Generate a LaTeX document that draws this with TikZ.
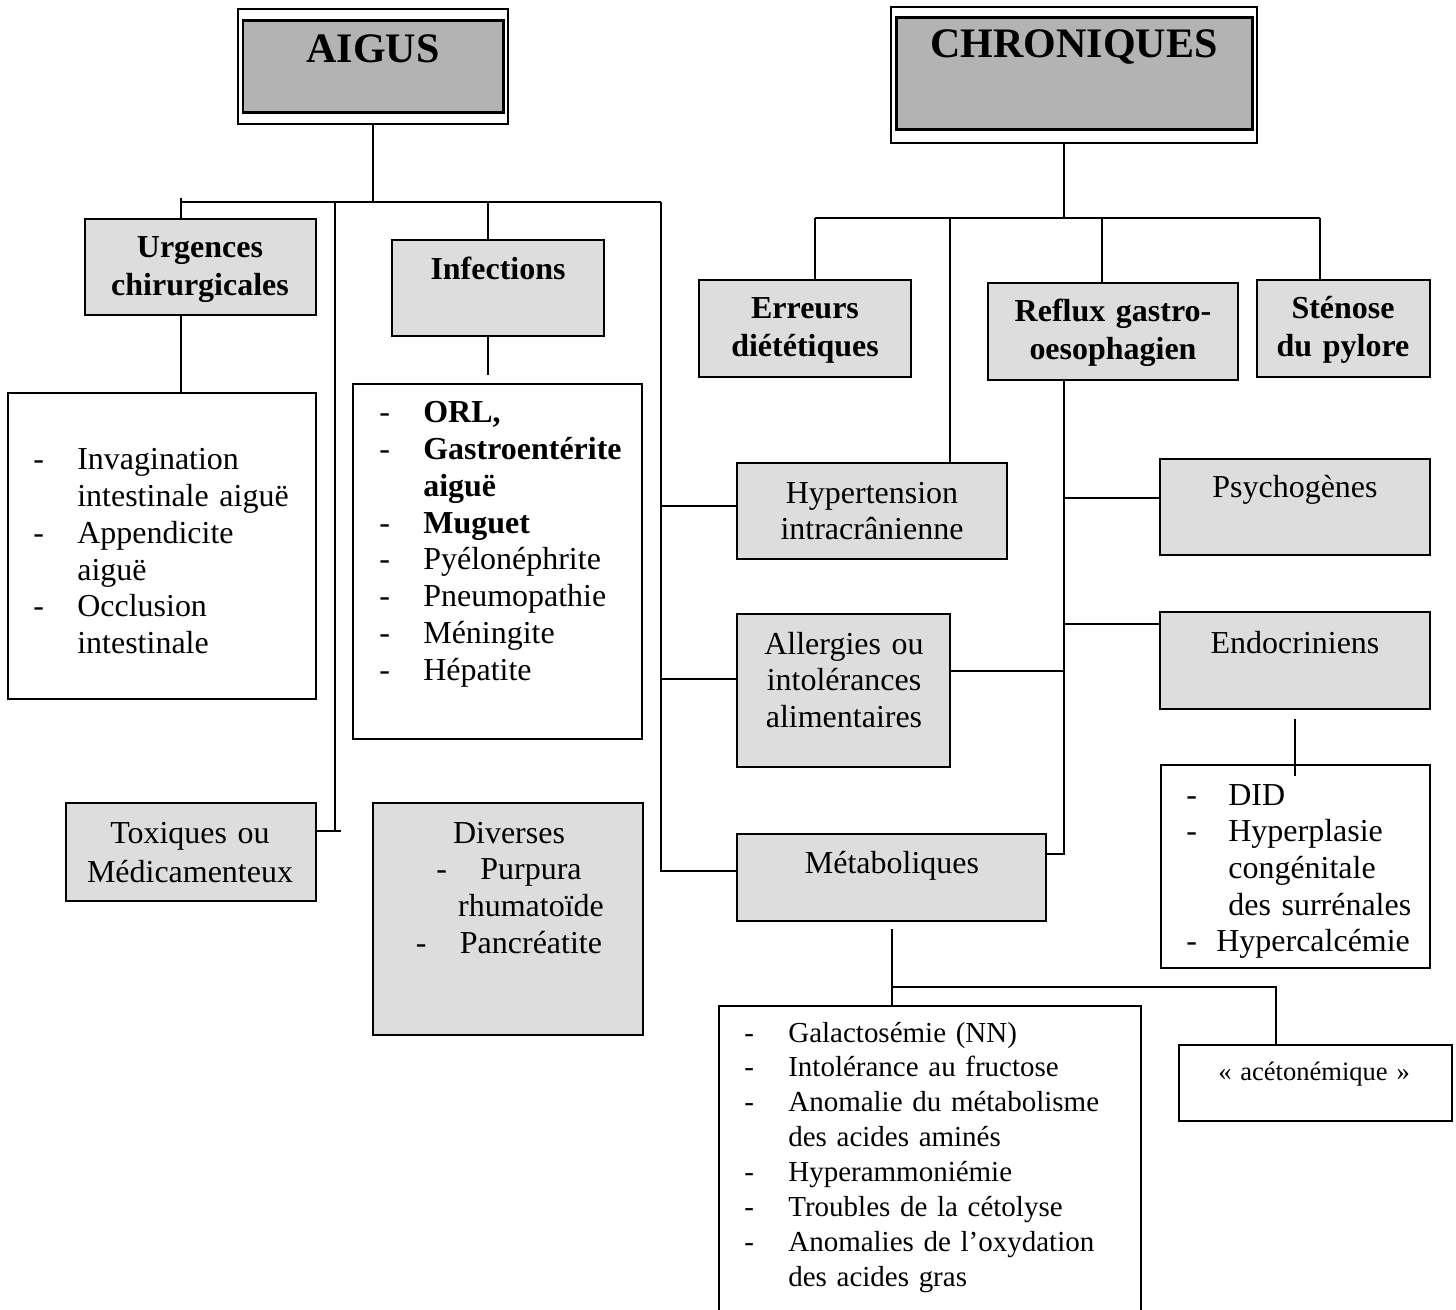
\documentclass[tikz,border=0pt]{standalone}
\usepackage{fontspec}
\setmainfont{Liberation Serif}
\usetikzlibrary{fit}
\definecolor{boxgray}{RGB}{221,221,221}
\definecolor{titlegray}{RGB}{179,179,179}
\tikzset{
    conn/.style={line width=0.85pt},
    framebox/.style={draw, line width=1.1pt, inner sep=0pt},
    graybox/.style={framebox, fill=boxgray},
    whitebox/.style={framebox, fill=white},
    titleout/.style={draw, line width=0.9pt, fill=white, inner sep=0pt},
    titlein/.style={draw, line width=1.7pt, fill=titlegray, inner sep=0pt},
    txt/.style={inner sep=0pt, anchor=base, text width=#1, align=center,
                font=\fontsize{18.2}{20.9}\selectfont},
    txt/.default=6cm,
    bold/.style={txt=#1, font=\fontsize{18.2}{21.6}\selectfont\bfseries},
    bold/.default=6cm,
    lst/.style={inner sep=0pt, anchor=base west, text width=#1, align=left,
                font=\fontsize{18.2}{20.9}\selectfont},
    lst/.default=6cm,
  }
\newcommand{\dash}[1][0.88cm]{\makebox[#1][l]{-}}
\newcommand{\ind}[1][0.88cm]{\hspace*{#1}}

\begin{document}
\begin{tikzpicture}[x=0.02cm,y=-0.02cm]
    \useasboundingbox (0,0) rectangle (1456,1310);
          %titres
          \node[titleout, fit={(238,9) (508,124)}] (aigus) {};
          \node[titlein, fit={(243,21) (503,113)}] (aigusIn) {};
          \node[bold, font=\fontsize{23.9}{26}\selectfont\bfseries] (aigusT) at (373,63) {AIGUS};
          \node[titleout, fit={(891,7) (1257,143)}] (chron) {};
          \node[titlein, fit={(896,18) (1252,130)}] (chronIn) {};
          \node[bold=8cm, font=\fontsize{23.9}{26}\selectfont\bfseries] (chronT) at (1074,58) {CHRONIQUES};
          %boites aigus
          \node[graybox, fit={(85,219) (316,315)}] (urg) {};
          \node[bold] (urgT) at (200,258) {Urgences\\chirurgicales};
          \node[whitebox, fit={(8,393) (316,699)}] (urgList) {};
          \node[lst] (urgListT) at (33,470) {\dash Invagination\\ \ind intestinale aiguë\\
                \dash Appendicite\\ \ind aiguë\\ \dash Occlusion\\ \ind intestinale};
          \node[graybox, fit={(392,240) (604,336)}] (inf) {};
          \node[bold] (infT) at (498,280) {Infections};
          \node[whitebox, fit={(353,384) (642,739)}] (infList) {};
          \node[lst] (infListT) at (379,423) {\dash\textbf{ORL,}\\ \dash\textbf{Gastroentérite}\\
                \ind\textbf{aiguë}\\ \dash\textbf{Muguet}\\ \dash Pyélonéphrite\\
                \dash Pneumopathie\\ \dash Méningite\\ \dash Hépatite};
          \node[graybox, fit={(66,803) (316,901)}] (tox) {};
          \node[txt, font=\fontsize{18.2}{22.2}\selectfont] (toxT) at (190,843) {Toxiques ou\\Médicamenteux};
          \node[graybox, fit={(373,803) (643,1035)}] (div) {};
          \node[txt] (divT) at (509,843) {Diverses\\ \dash Purpura\\ \ind rhumatoïde\\ \dash Pancréatite};
          %boites chroniques
          \node[graybox, fit={(699,280) (911,377)}] (err) {};
          \node[bold] (errT) at (805,319) {Erreurs\\diététiques};
          \node[graybox, fit={(988,283) (1238,380)}] (refl) {};
          \node[bold] (reflT) at (1113,322) {Reflux gastro-\\oesophagien};
          \node[graybox, fit={(1257,280) (1430,377)}] (sten) {};
          \node[bold] (stenT) at (1343,319) {Sténose\\du pylore};
          \node[graybox, fit={(737,463) (1007,559)}] (hyp) {};
          \node[txt, font=\fontsize{18.2}{20.2}\selectfont] (hypT) at (872,504) {Hypertension\\intracrânienne};
          \node[graybox, fit={(1160,459) (1430,555)}] (psy) {};
          \node[txt] (psyT) at (1295,498) {Psychogènes};
          \node[graybox, fit={(737,614) (950,767)}] (all) {};
          \node[txt] (allT) at (844,654) {Allergies ou\\intolérances\\alimentaires};
          \node[graybox, fit={(1160,612) (1430,709)}] (endo) {};
          \node[txt] (endoT) at (1295,653) {Endocriniens};
          \node[whitebox, fit={(1161,765) (1430,968)}] (did) {};
          \node[lst] (didT) at (1186,805) {\dash[0.84cm]DID\\ \dash[0.84cm]Hyperplasie\\
                \ind[0.84cm]congénitale\\ \ind[0.84cm]des surrénales\\ \dash[0.6cm]Hypercalcémie};
          \node[graybox, fit={(737,834) (1046,921)}] (met) {};
          \node[txt] (metT) at (892,873) {Métaboliques};
          \node[whitebox, fit={(719,1006) (1141,1320)}] (metList) {};
          \node[lst=9cm, font=\fontsize{16.5}{19.9}\selectfont] (metListT) at (744,1042) {\dash Galactosémie (NN)\\
                \dash Intolérance au fructose\\ \dash Anomalie du métabolisme\\ \ind des acides aminés\\
                \dash Hyperammoniémie\\ \dash Troubles de la cétolyse\\ \dash Anomalies de l’oxydation\\
                \ind des acides gras};
          \node[whitebox, fit={(1179,1045) (1452,1121)}] (acet) {};
          \node[txt, font=\fontsize{15.1}{18}\selectfont] (acetT) at (1314,1080) {« acétonémique »};
          %liens aigus
          \coordinate (a1) at (181,198);
          \coordinate (a2) at (661,202);
          \coordinate (a3) at (335,202);
          \coordinate (a4) at (488,202);
          \coordinate (tx) at (335,831);
          \coordinate (a6) at (661,871);
          \draw[conn] (aigus.south) -- (aigus.south |- a2);
          \draw[conn] (a1 |- a2) -- (a2);
          \draw[conn] (a1) -- (a1 |- urg.north);
          \draw[conn] (a1 |- urg.south) -- (a1 |- urgList.north);
          \draw[conn] (a3) -- (tx);
          \draw[conn] (tox.east |- tx) -- ++(24,0);
          \draw[conn] (a4) -- (a4 |- inf.north);
          \draw[conn] (a4 |- inf.south) -- ++(0,38);
          \draw[conn] (a2) -- (a6) -- (a6 -| met.west);
          \draw[conn] (a2 |- 0,506) -- (hyp.west |- 0,506);
          \draw[conn] (a2 |- 0,679) -- (all.west |- 0,679);
          %liens chroniques
          \coordinate (c0) at (1064,218);
          \coordinate (c1) at (815,218);
          \coordinate (c2) at (1320,218);
          \coordinate (c3) at (950,218);
          \coordinate (c4) at (1102,218);
          \coordinate (r1) at (1064,854);
          \draw[conn] (c0 |- chron.south) -- (c0);
          \draw[conn] (c1) -- (c2);
          \draw[conn] (c1) -- (c1 |- err.north);
          \draw[conn] (c3) -- (c3 |- hyp.north);
          \draw[conn] (c4) -- (c4 |- refl.north);
          \draw[conn] (c2) -- (c2 |- sten.north);
          \draw[conn] (r1 |- refl.south) -- (r1) -- (r1 -| met.east);
          \draw[conn] (r1 |- 0,498) -- (psy.west |- 0,498);
          \draw[conn] (r1 |- 0,624) -- (endo.west |- 0,624);
          \draw[conn] (all.east |- 0,671) -- (r1 |- 0,671);
          \coordinate (e1) at (1295,719);
          \draw[conn] (e1) -- ++(0,57);
          \coordinate (m1) at (892,929);
          \coordinate (m2) at (1276,987);
          \draw[conn] (m1) -- (m1 |- metList.north);
          \draw[conn] (m1 |- m2) -- (m2) -- (m2 |- acet.north);
\end{tikzpicture}
\end{document}
